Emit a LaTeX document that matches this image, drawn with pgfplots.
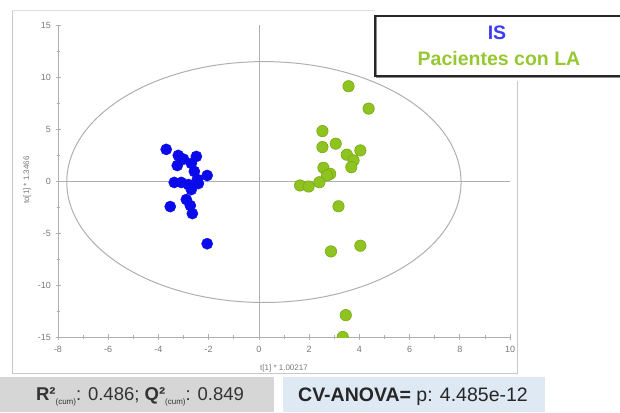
\documentclass[border=0pt]{standalone}
\usepackage{pgfplots}
\pgfplotsset{compat=1.18}
\usepackage{fontspec}
\setmainfont{Liberation Sans}
\definecolor{blueDot}{RGB}{10,10,235}
\definecolor{greenDot}{RGB}{142,195,32}
\definecolor{greenEdge}{RGB}{120,170,22}
\definecolor{legBlue}{RGB}{60,60,250}
\definecolor{legGreen}{RGB}{150,200,50}
\definecolor{frameGray}{RGB}{200,200,200}
\definecolor{boxGray}{RGB}{214,214,214}
\definecolor{boxBlue}{RGB}{222,233,244}
\definecolor{tickGray}{RGB}{120,120,120}
\definecolor{lineGray}{RGB}{175,175,175}
\begin{document}
\begin{tikzpicture}[x=1pt,y=1pt]
\useasboundingbox (0,0) rectangle (620,412);
% outer frame
\draw[frameGray, line width=1pt] (12,402) -- (12,39) -- (517,39) -- (517,331);
\draw[frameGray!60, line width=0.8pt] (12,402) -- (375,402);
\begin{axis}[
  scale only axis,
  width=452pt, height=312pt,
  at={(58pt,75pt)}, anchor=south west,
  xmin=-8, xmax=10, ymin=-15, ymax=15,
  axis lines=left,
  axis line style={-, draw=lineGray, line width=0.8pt},
  xtick={-8,-6,...,10}, ytick={-15,-10,...,15},
  minor x tick num=1, minor y tick num=1,
  tick align=center,
  major tick length=5pt, minor tick length=3pt,
  tick style={lineGray, line width=0.6pt},
  ticklabel style={font=\fontsize{9}{9}\selectfont, text=tickGray},
  /pgf/number format/assume math mode=true,
  xticklabel style={yshift=-3pt},
  yticklabel style={xshift=-1pt},
  clip marker paths=true,
]
\draw[lineGray, line width=0.7pt] (axis cs:0,-15) -- (axis cs:0,15);
\draw[lineGray, line width=0.7pt] (axis cs:-8,0) -- (axis cs:10,0);
\draw[lineGray, line width=1pt] (axis cs:0.2,-0.1) ellipse [x radius=7.85, y radius=11.58];
\addplot[only marks, mark=*, mark size=5.6pt, mark options={fill=blueDot, draw=blueDot}] coordinates {
(-3.69,3.04) (-3.21,2.46) (-2.49,2.36) (-3.00,2.10) (-3.25,1.49) (-2.69,1.69)
(-2.57,0.92) (-2.06,0.53) (-3.37,-0.14) (-3.09,-0.14) (-2.81,-0.34) (-2.41,-0.24)
(-2.45,0.15) (-2.69,-0.82) (-2.89,-1.78) (-3.53,-2.46) (-2.73,-2.36) (-2.65,-3.13)
(-2.06,-6.03)
};
\addplot[only marks, mark=*, mark size=5.7pt, mark options={fill=greenDot, draw=greenEdge, line width=0.6pt}] coordinates {
(3.57,9.11) (4.37,6.96) (2.53,4.80) (2.53,3.26) (3.06,3.59) (3.50,2.53)
(4.04,2.94) (3.77,1.98) (3.68,1.33) (2.57,1.27) (2.84,0.69) (2.71,0.53)
(2.41,-0.12) (1.64,-0.43) (1.98,-0.53) (3.17,-2.43) (4.04,-6.22) (2.87,-6.77)
(3.46,-12.9) (3.34,-15.0)
};
\end{axis}
% axis labels
\node[text=tickGray, font=\fontsize{8}{8}\selectfont] at (284,44) {t[1] * 1.00217};
\node[text=tickGray, font=\fontsize{8}{8}\selectfont, rotate=90] at (27,232) {to[1] * 1.3466};
% legend box
\fill[white] (375,336) rectangle (625,396);
\draw[black!45, line width=1.2pt] (622,334.5) -- (376.5,334.5) -- (376.5,394.5);
\draw[black!85, line width=2pt] (622,396) -- (375,396) -- (375,336) -- (622,336);
\node[text=legBlue, font=\fontsize{19.5}{19.5}\selectfont\bfseries] at (497,379) {IS};
\node[text=legGreen, font=\fontsize{19.5}{19.5}\selectfont\bfseries] at (499,353) {Pacientes con LA};
% stats boxes
\fill[boxGray] (0,0) rectangle (274,35);
\fill[boxBlue] (283,0) rectangle (545,35);
\node[text=black!80, font=\fontsize{18.5}{18.5}\selectfont, inner sep=0pt] at (140,15)
  {\textbf{R²}\raisebox{-0.45ex}{\fontsize{8}{8}\selectfont(cum)}: 0.486; \textbf{Q²}\raisebox{-0.45ex}{\fontsize{8}{8}\selectfont(cum)}: 0.849};
\node[text=black!85, font=\fontsize{19.5}{19.5}\selectfont, inner sep=0pt] at (413,15)
  {\textbf{CV-ANOVA=} p: 4.485e-12};
\end{tikzpicture}
\end{document}
